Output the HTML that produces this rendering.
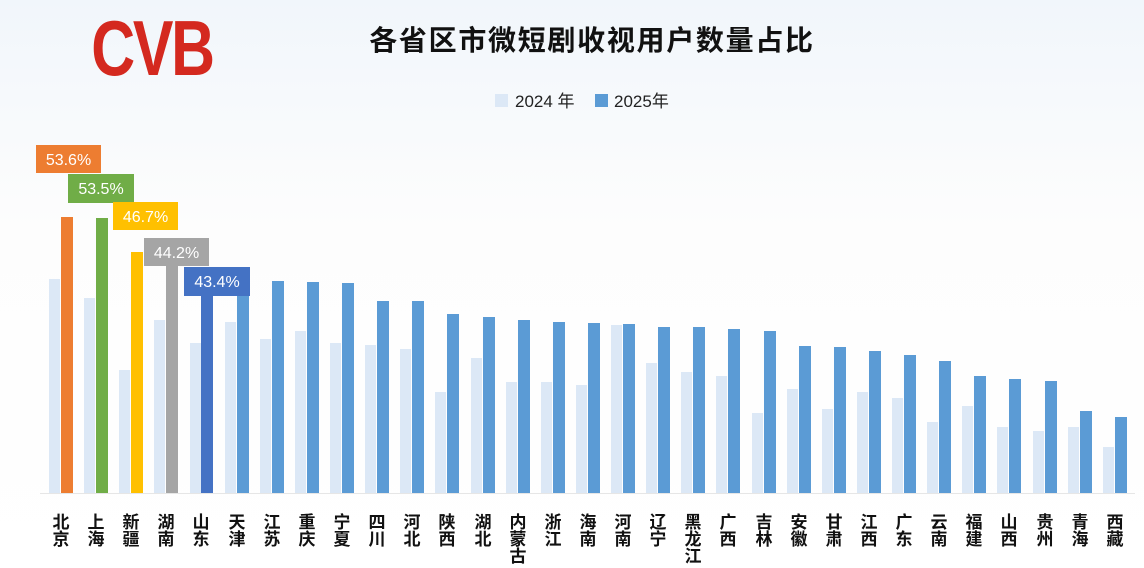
<!DOCTYPE html>
<html><head><meta charset="utf-8"><style>
html,body{margin:0;padding:0;width:1144px;height:568px;overflow:hidden;background:linear-gradient(#f1f6fb,#fdfdfd 40%,#ffffff);}
svg{display:block}
text{font-family:"Liberation Sans","Noto Sans CJK SC",sans-serif;}
</style></head><body>
<svg width="1144" height="568" xmlns="http://www.w3.org/2000/svg">
<text x="152" y="75" text-anchor="middle" font-size="78" font-weight="bold" fill="#d4291f" transform="translate(152,0) scale(0.78,1) translate(-152,0)" style="letter-spacing:-3px">CVB</text>
<text x="592" y="50" text-anchor="middle" font-size="28" font-weight="bold" fill="#111" style="letter-spacing:1.7px">各省区市微短剧收视用户数量占比</text>
<rect x="495" y="94" width="13" height="13" fill="#dce8f6"/>
<text x="515" y="107" font-size="17" fill="#222">2024 年</text>
<rect x="595" y="94" width="13" height="13" fill="#5b9bd5"/>
<text x="614" y="107" font-size="17" fill="#222">2025年</text>
<line x1="40" y1="493.5" x2="1135" y2="493.5" stroke="#e6e6e6" stroke-width="1"/>
<g fill="#dce8f6">
<rect x="49" y="279" width="11" height="214"/>
<rect x="84" y="298" width="11" height="195"/>
<rect x="119" y="370" width="11" height="123"/>
<rect x="154" y="320" width="11" height="173"/>
<rect x="190" y="343" width="11" height="150"/>
<rect x="225" y="322" width="11" height="171"/>
<rect x="260" y="339" width="11" height="154"/>
<rect x="295" y="331" width="11" height="162"/>
<rect x="330" y="343" width="11" height="150"/>
<rect x="365" y="345" width="11" height="148"/>
<rect x="400" y="349" width="11" height="144"/>
<rect x="435" y="392" width="11" height="101"/>
<rect x="471" y="358" width="11" height="135"/>
<rect x="506" y="382" width="11" height="111"/>
<rect x="541" y="382" width="11" height="111"/>
<rect x="576" y="385" width="11" height="108"/>
<rect x="611" y="325" width="11" height="168"/>
<rect x="646" y="363" width="11" height="130"/>
<rect x="681" y="372" width="11" height="121"/>
<rect x="716" y="376" width="11" height="117"/>
<rect x="752" y="413" width="11" height="80"/>
<rect x="787" y="389" width="11" height="104"/>
<rect x="822" y="409" width="11" height="84"/>
<rect x="857" y="392" width="11" height="101"/>
<rect x="892" y="398" width="11" height="95"/>
<rect x="927" y="422" width="11" height="71"/>
<rect x="962" y="406" width="11" height="87"/>
<rect x="997" y="427" width="11" height="66"/>
<rect x="1033" y="431" width="11" height="62"/>
<rect x="1068" y="427" width="11" height="66"/>
<rect x="1103" y="447" width="11" height="46"/>
</g>
<rect x="61" y="217" width="12" height="276" fill="#ed7d31"/>
<rect x="96" y="218" width="12" height="275" fill="#70ad47"/>
<rect x="131" y="252" width="12" height="241" fill="#ffc000"/>
<rect x="166" y="265" width="12" height="228" fill="#a5a5a5"/>
<rect x="201" y="269" width="12" height="224" fill="#4472c4"/>
<g fill="#5b9bd5">
<rect x="237" y="283" width="12" height="210"/>
<rect x="272" y="281" width="12" height="212"/>
<rect x="307" y="282" width="12" height="211"/>
<rect x="342" y="283" width="12" height="210"/>
<rect x="377" y="301" width="12" height="192"/>
<rect x="412" y="301" width="12" height="192"/>
<rect x="447" y="314" width="12" height="179"/>
<rect x="483" y="317" width="12" height="176"/>
<rect x="518" y="320" width="12" height="173"/>
<rect x="553" y="322" width="12" height="171"/>
<rect x="588" y="323" width="12" height="170"/>
<rect x="623" y="324" width="12" height="169"/>
<rect x="658" y="327" width="12" height="166"/>
<rect x="693" y="327" width="12" height="166"/>
<rect x="728" y="329" width="12" height="164"/>
<rect x="764" y="331" width="12" height="162"/>
<rect x="799" y="346" width="12" height="147"/>
<rect x="834" y="347" width="12" height="146"/>
<rect x="869" y="351" width="12" height="142"/>
<rect x="904" y="355" width="12" height="138"/>
<rect x="939" y="361" width="12" height="132"/>
<rect x="974" y="376" width="12" height="117"/>
<rect x="1009" y="379" width="12" height="114"/>
<rect x="1045" y="381" width="12" height="112"/>
<rect x="1080" y="411" width="12" height="82"/>
<rect x="1115" y="417" width="12" height="76"/>
</g>
<g font-size="16" fill="#fff" text-anchor="middle">
<rect x="36" y="145" width="65" height="28" fill="#ed7d31"/><text x="68.5" y="165">53.6%</text>
<rect x="68" y="174" width="66" height="29" fill="#70ad47"/><text x="101" y="194">53.5%</text>
<rect x="113" y="202" width="65" height="28" fill="#ffc000"/><text x="145.5" y="222">46.7%</text>
<rect x="144" y="238" width="65" height="28" fill="#a5a5a5"/><text x="176.5" y="258">44.2%</text>
<rect x="184" y="267" width="66" height="29" fill="#4472c4"/><text x="217" y="287">43.4%</text>
</g>
<g font-size="17" font-weight="bold" fill="#111" text-anchor="middle">
<text x="61" y="528">北</text><text x="61" y="545">京</text>
<text x="96" y="528">上</text><text x="96" y="545">海</text>
<text x="131" y="528">新</text><text x="131" y="545">疆</text>
<text x="166" y="528">湖</text><text x="166" y="545">南</text>
<text x="201" y="528">山</text><text x="201" y="545">东</text>
<text x="237" y="528">天</text><text x="237" y="545">津</text>
<text x="272" y="528">江</text><text x="272" y="545">苏</text>
<text x="307" y="528">重</text><text x="307" y="545">庆</text>
<text x="342" y="528">宁</text><text x="342" y="545">夏</text>
<text x="377" y="528">四</text><text x="377" y="545">川</text>
<text x="412" y="528">河</text><text x="412" y="545">北</text>
<text x="447" y="528">陕</text><text x="447" y="545">西</text>
<text x="483" y="528">湖</text><text x="483" y="545">北</text>
<text x="518" y="528">内</text><text x="518" y="545">蒙</text><text x="518" y="562">古</text>
<text x="553" y="528">浙</text><text x="553" y="545">江</text>
<text x="588" y="528">海</text><text x="588" y="545">南</text>
<text x="623" y="528">河</text><text x="623" y="545">南</text>
<text x="658" y="528">辽</text><text x="658" y="545">宁</text>
<text x="693" y="528">黑</text><text x="693" y="545">龙</text><text x="693" y="562">江</text>
<text x="728" y="528">广</text><text x="728" y="545">西</text>
<text x="764" y="528">吉</text><text x="764" y="545">林</text>
<text x="799" y="528">安</text><text x="799" y="545">徽</text>
<text x="834" y="528">甘</text><text x="834" y="545">肃</text>
<text x="869" y="528">江</text><text x="869" y="545">西</text>
<text x="904" y="528">广</text><text x="904" y="545">东</text>
<text x="939" y="528">云</text><text x="939" y="545">南</text>
<text x="974" y="528">福</text><text x="974" y="545">建</text>
<text x="1009" y="528">山</text><text x="1009" y="545">西</text>
<text x="1045" y="528">贵</text><text x="1045" y="545">州</text>
<text x="1080" y="528">青</text><text x="1080" y="545">海</text>
<text x="1115" y="528">西</text><text x="1115" y="545">藏</text>
</g>
</svg>
</body></html>
